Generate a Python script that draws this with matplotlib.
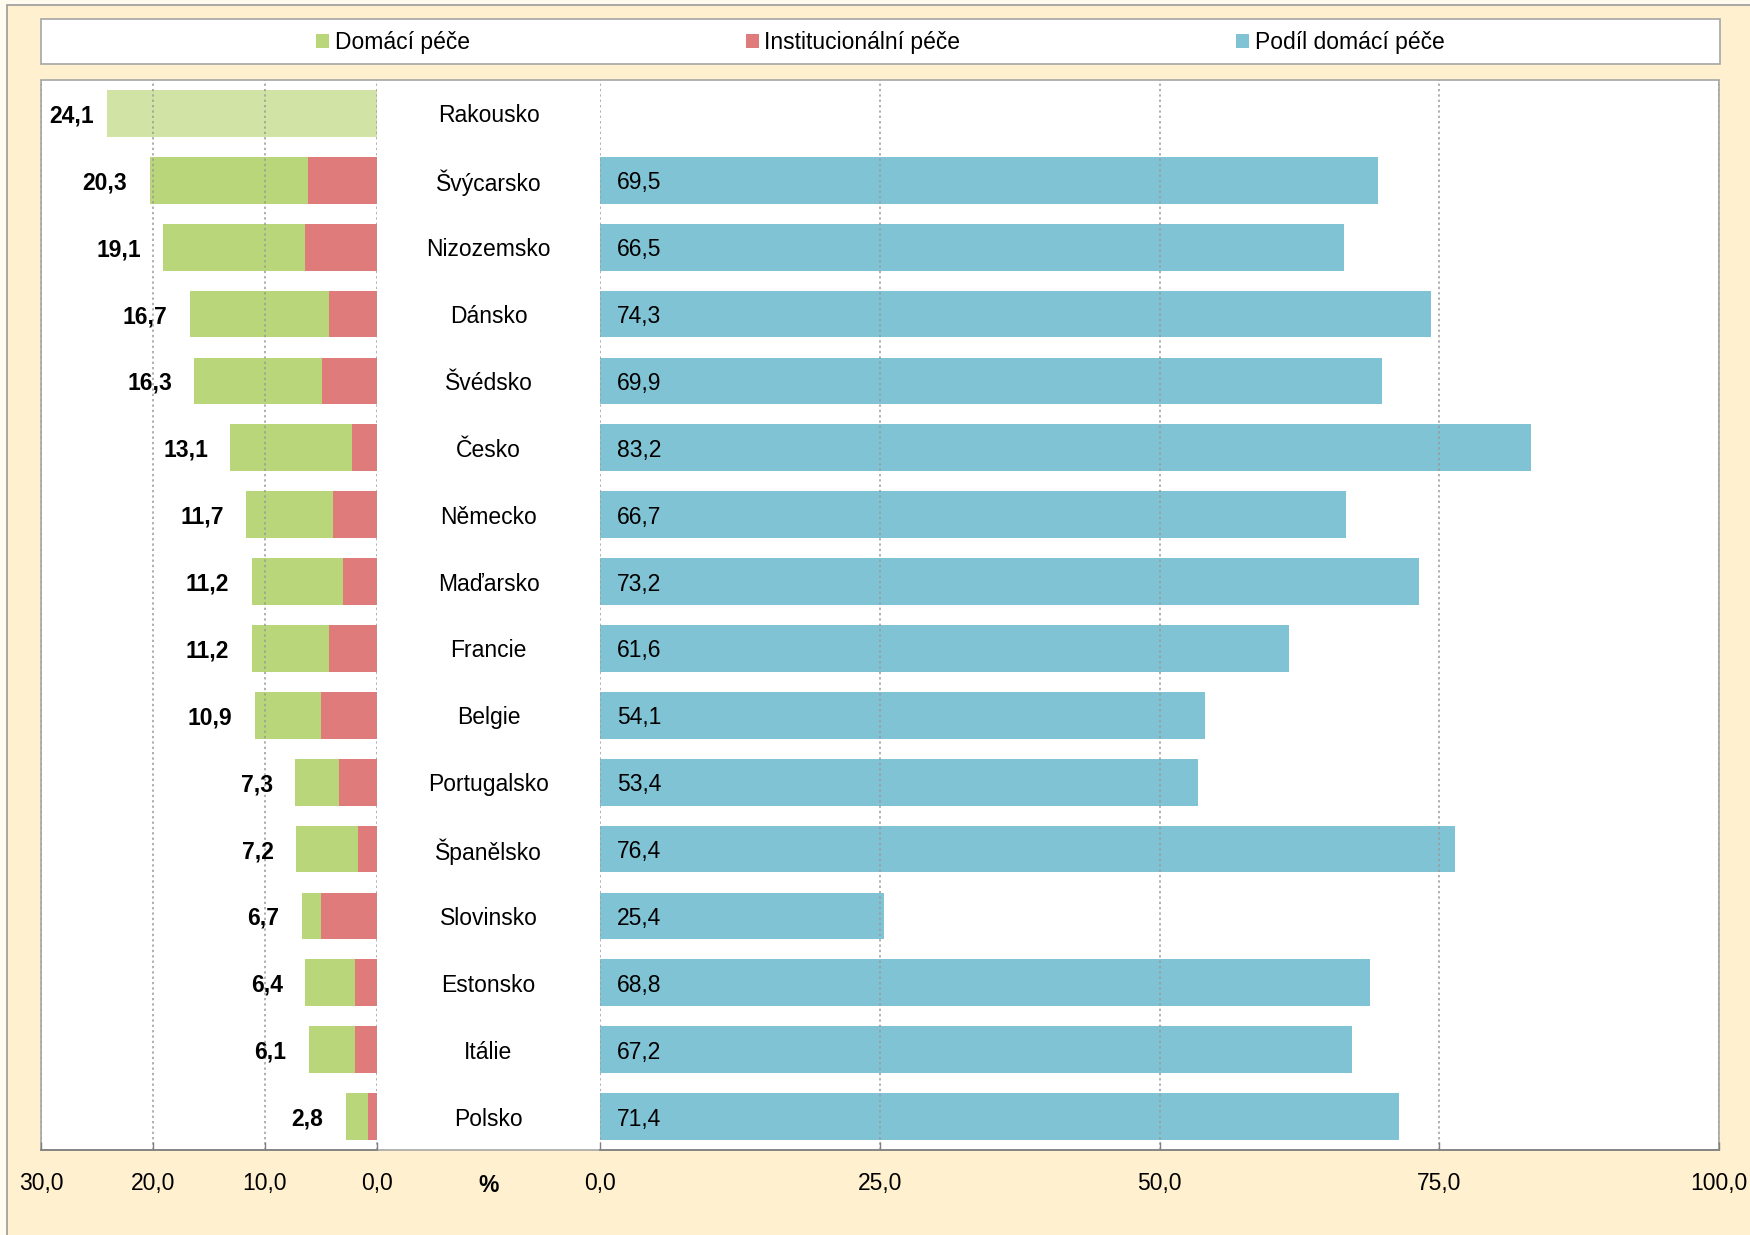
import numpy as np
import matplotlib
matplotlib.use("Agg")
import matplotlib.pyplot as plt
from matplotlib.patches import Rectangle, Patch
from matplotlib.ticker import FuncFormatter, FixedLocator
from matplotlib.transforms import blended_transform_factory

plt.rcParams["font.family"] = ["Liberation Sans", "DejaVu Sans"]

# --- data -------------------------------------------------------------------
countries = ["Rakousko", "Švýcarsko", "Nizozemsko", "Dánsko", "Švédsko", "Česko",
             "Německo", "Maďarsko", "Francie", "Belgie", "Portugalsko",
             "Španělsko", "Slovinsko", "Estonsko", "Itálie", "Polsko"]
# total recipients of long-term care (% of population 65+)
total = [24.1, 20.3, 19.1, 16.7, 16.3, 13.1, 11.7, 11.2, 11.2, 10.9,
         7.3, 7.2, 6.7, 6.4, 6.1, 2.8]
# split into home care and institutional care (no split for Rakousko)
home_care = [np.nan, 14.1, 12.7, 12.4, 11.4, 10.9, 7.8, 8.2, 6.9, 5.9,
             3.9, 5.5, 1.7, 4.4, 4.1, 2.0]
inst_care = [np.nan, 6.2, 6.4, 4.3, 4.9, 2.2, 3.9, 3.0, 4.3, 5.0,
             3.4, 1.7, 5.0, 2.0, 2.0, 0.8]
# share of home care in total care (%)
home_share = [np.nan, 69.5, 66.5, 74.3, 69.9, 83.2, 66.7, 73.2, 61.6, 54.1,
              53.4, 76.4, 25.4, 68.8, 67.2, 71.4]

left_ticks = [30, 20, 10, 0]
right_ticks = [0, 25, 50, 75, 100]

legend_labels = ["Domácí péče", "Institucionální péče", "Podíl domácí péče"]

# --- style ------------------------------------------------------------------
GREEN = "#BAD67A"
GREEN_LIGHT = "#D2E4A5"
RED = "#E07B7B"
BLUE = "#7FC3D4"
CREAM = "#FFF0CF"
GRID = "#9A9A9A"
FS = 16.5

W, H = 1750, 1235
fig = plt.figure(figsize=(W / 100, H / 100), dpi=100)
fig.patch.set_facecolor("#FFFCEF")


def fx(px):
    return px / W


def fy(py):
    return 1 - py / H


# cream chart area
fig.add_artist(Rectangle((fx(7), fy(1300)), fx(1800), (1300 - 5) / H,
                         transform=fig.transFigure, facecolor=CREAM,
                         edgecolor="#9A9A9A", lw=1.2, zorder=-3))

# plot area frame
PL, PR, PT, PB = 41, 1719, 80, 1150
fig.add_artist(Rectangle((fx(PL), fy(PB)), (PR - PL) / W, (PB - PT) / H,
                         transform=fig.transFigure, facecolor="white",
                         edgecolor="#A6A6A6", lw=1.2, zorder=-2))

# legend box
LL, LR, LT, LB = 41, 1720, 19, 64
fig.add_artist(Rectangle((fx(LL), fy(LB)), (LR - LL) / W, (LB - LT) / H,
                         transform=fig.transFigure, facecolor="white",
                         edgecolor="#A6A6A6", lw=1.2, zorder=-2))

GAP_L, GAP_R = 377, 600
ax_l = fig.add_axes([fx(PL), fy(PB), (GAP_L - PL) / W, (PB - PT) / H])
ax_r = fig.add_axes([fx(GAP_R), fy(PB), (PR - GAP_R) / W, (PB - PT) / H])

y = np.arange(len(countries))
bar_h = 0.70
home = np.array(home_care, dtype=float)
inst = np.array(inst_care, dtype=float)
tot = np.array(total, dtype=float)
share = np.array(home_share, dtype=float)
has_split = ~np.isnan(home)

# left panel: institutional care next to zero, home care outside
ax_l.barh(y[has_split], inst[has_split], left=0, height=bar_h, color=RED, zorder=1)
ax_l.barh(y[has_split], home[has_split], left=inst[has_split], height=bar_h,
          color=GREEN, zorder=1)
ax_l.barh(y[~has_split], tot[~has_split], height=bar_h, color=GREEN_LIGHT, zorder=1)

for yi, t in zip(y, tot):
    xpos = min(t + 2.0, 25.3)  # keep labels inside the plot area
    ax_l.text(xpos, yi, f"{t:.1f}".replace(".", ","), ha="right",
              va="center_baseline", fontsize=FS, fontweight="bold", zorder=3)

# right panel: share of home care
ax_r.barh(y[has_split], share[has_split], height=bar_h, color=BLUE, zorder=1)
for yi, s in zip(y[has_split], share[has_split]):
    ax_r.text(1.55, yi, f"{s:.1f}".replace(".", ","), ha="left",
              va="center_baseline", fontsize=FS, zorder=3)

# country names in the gap between the panels
trans = blended_transform_factory(fig.transFigure, ax_l.transData)
for yi, name in zip(y, countries):
    ax_l.text(fx((GAP_L + GAP_R) / 2), yi, name, transform=trans, ha="center",
              va="center_baseline", fontsize=FS, clip_on=False)

fmt = FuncFormatter(lambda v, _: f"{v:.1f}".replace(".", ","))
for ax, lim, ticks in ((ax_l, (30, 0), left_ticks), (ax_r, (0, 100), right_ticks)):
    ax.set_xlim(*lim)
    ax.set_ylim(len(countries) - 0.5, -0.5)
    ax.set_facecolor("none")
    ax.xaxis.set_major_locator(FixedLocator(ticks))
    ax.xaxis.set_major_formatter(fmt)
    ax.set_yticks([])
    for side in ("top", "left", "right"):
        ax.spines[side].set_visible(False)
    ax.spines["bottom"].set_color("#7F7F7F")
    ax.spines["bottom"].set_linewidth(1.2)
    ax.tick_params(axis="x", direction="in", length=6, width=1, color="#7F7F7F",
                   labelsize=FS, pad=16)
    ax.set_axisbelow(False)
    ax.grid(axis="x", color=GRID, linestyle=(0, (1.5, 2)), linewidth=1.1, zorder=2)

fig.text(fx((GAP_L + GAP_R) / 2), fy(1186), "%", ha="center", va="center",
         fontsize=FS, fontweight="bold")

# legend
handles = [Patch(facecolor=GREEN), Patch(facecolor=RED), Patch(facecolor=BLUE)]
fig.legend(handles, legend_labels, loc="center",
           bbox_to_anchor=(fx((LL + LR) / 2), fy((LT + LB) / 2 + 1)),
           ncol=3, frameon=False, fontsize=FS, handlelength=0.55,
           handleheight=0.55, handletextpad=0.25, columnspacing=12.05,
           borderpad=0)

fig.savefig("out.png", dpi=100, facecolor=fig.get_facecolor())
